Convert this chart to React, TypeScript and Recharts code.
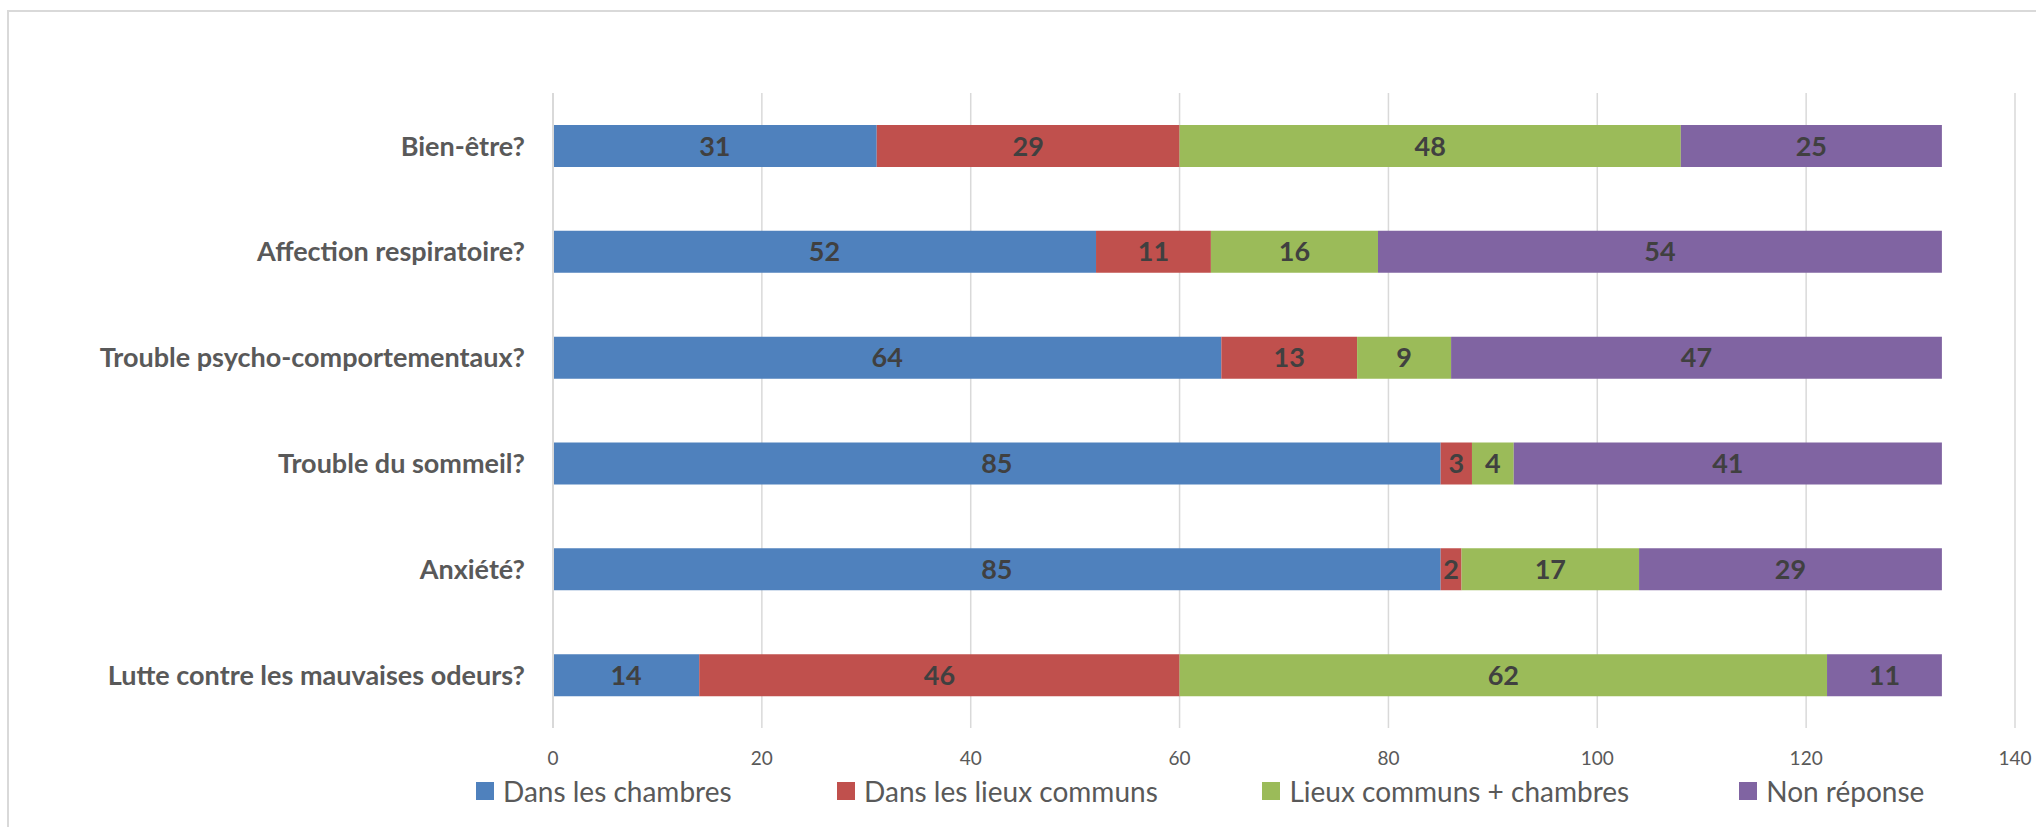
import React from 'react';
import {
  BarChart,
  Bar,
  XAxis,
  YAxis,
  CartesianGrid,
  Legend,
  LabelList,
} from 'recharts';

const categories = [
  'Bien-être?',
  'Affection respiratoire?',
  'Trouble psycho-comportementaux?',
  'Trouble du sommeil?',
  'Anxiété?',
  'Lutte contre les mauvaises odeurs?',
];
const dansLesChambres = [31, 52, 64, 85, 85, 14];
const dansLesLieuxCommuns = [29, 11, 13, 3, 2, 46];
const lieuxCommunsChambres = [48, 16, 9, 4, 17, 62];
const nonReponse = [25, 54, 47, 41, 29, 11];
const xTicks = [0, 20, 40, 60, 80, 100, 120, 140];

const series = [
  { key: 'chambres', name: 'Dans les chambres', color: '#4F81BD', values: dansLesChambres },
  { key: 'lieux', name: 'Dans les lieux communs', color: '#C0504D', values: dansLesLieuxCommuns },
  { key: 'mixte', name: 'Lieux communs + chambres', color: '#9BBB59', values: lieuxCommunsChambres },
  { key: 'nr', name: 'Non réponse', color: '#8064A2', values: nonReponse },
];

const data = categories.map((name, i) => {
  const row: Record<string, string | number> = { name };
  series.forEach((s) => {
    row[s.key] = s.values[i];
  });
  return row;
});

const FONT = 'Lato, "Open Sans", sans-serif';
const GRID = '#d9d9d9';
// legend columns (Excel spreads items this way)
const legendWidths = [365, 430, 482, 300];

function LegendContent({ payload }: any) {
  return (
    <div style={{ display: 'flex', fontFamily: FONT, fontSize: 28, color: '#595959' }}>
      {(payload || []).map((entry: any, i: number) => (
        <div
          key={entry.value}
          style={{ width: legendWidths[i], display: 'flex', alignItems: 'center', whiteSpace: 'nowrap' }}
        >
          <span style={{ width: 18, height: 18, background: entry.color, marginRight: 9, display: 'inline-block' }} />
          <span>{entry.value}</span>
        </div>
      ))}
    </div>
  );
}

export default function App() {
  return (
    <>
      <style>{'body{margin:0;overflow:hidden;background:#fff}'}</style>
      <div
        style={{
          position: 'absolute',
          left: 7,
          top: 10,
          width: 2040,
          height: 830,
          borderTop: `2px solid ${GRID}`,
          borderLeft: `2px solid ${GRID}`,
          boxSizing: 'border-box',
        }}
      />
      <div style={{ position: 'absolute', left: 0, top: 0 }}>
        <BarChart
          width={2036}
          height={827}
          data={data}
          layout="vertical"
          margin={{ top: 93, right: 21, bottom: 59, left: 0 }}
          barSize={42}
        >
          <CartesianGrid horizontal={false} stroke={GRID} strokeWidth={1.5} />
          <XAxis
            type="number"
            domain={[0, 140]}
            ticks={xTicks}
            axisLine={false}
            tickLine={false}
            tickSize={0}
            tickMargin={24}
            height={40}
            tick={{ fill: '#595959', fontSize: 19, fontFamily: FONT }}
            interval={0}
          />
          <YAxis
            type="category"
            dataKey="name"
            width={553}
            axisLine={{ stroke: GRID, strokeWidth: 2 }}
            tickLine={false}
            tickSize={0}
            tickMargin={28}
            interval={0}
            tick={{ fill: '#595959', fontSize: 27, fontWeight: 700, fontFamily: FONT }}
          />
          <Legend
            layout="horizontal"
            verticalAlign="middle"
            align="center"
            content={<LegendContent />}
            wrapperStyle={{ top: 774, left: 476, width: 1560, height: 36 }}
          />
          {series.map((s) => (
            <Bar
              key={s.key}
              dataKey={s.key}
              name={s.name}
              stackId="a"
              fill={s.color}
              isAnimationActive={false}
            >
              <LabelList
                dataKey={s.key}
                position="center"
                fill="#404040"
                fontSize={27}
                fontWeight={700}
                fontFamily={FONT}
              />
            </Bar>
          ))}
        </BarChart>
      </div>
    </>
  );
}
